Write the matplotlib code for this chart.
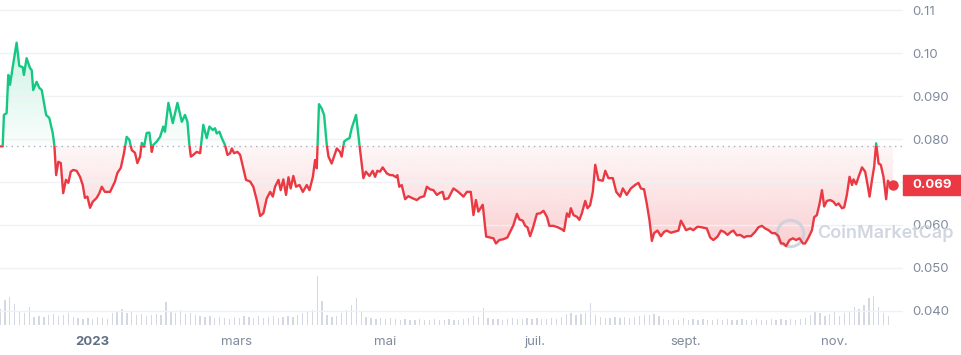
import matplotlib
matplotlib.use("Agg")
import matplotlib.pyplot as plt
import numpy as np
import pandas as pd
from matplotlib.path import Path
from matplotlib.patches import PathPatch, Rectangle

plt.rcParams["font.family"] = ["Inter", "DejaVu Sans"]

# price series (days since start date)
START = "2022-11-24"
BASE_PRICE = 0.0784

days = [
    0.0, 1.1, 1.6, 2.7, 3.4, 4.1, 5.2, 6.8, 7.9, 9.3,
    9.8, 10.9, 12.3, 13.0, 13.6, 15.0, 16.1, 17.1, 18.9, 20.2,
    21.6, 22.3, 23.0, 23.9, 24.9, 25.9, 27.0, 28.0, 29.0, 30.0,
    31.4, 32.8, 33.9, 34.8, 35.8, 36.9, 38.0, 39.6, 40.7, 41.7,
    43.0, 45.1, 47.1, 48.1, 49.5, 50.8, 51.9, 53.0, 54.0, 55.3,
    56.3, 57.4, 58.1, 59.0, 60.1, 61.2, 62.2, 62.8, 64.2, 65.6,
    66.9, 67.6, 69.0, 70.8, 72.7, 74.5, 75.8, 76.8, 77.6, 78.2,
    79.2, 80.6, 82.0, 83.3, 84.7, 85.8, 87.2, 88.1, 88.8, 89.9,
    90.9, 92.2, 93.2, 94.3, 95.0, 95.9, 97.3, 98.4, 99.5, 100.8,
    102.5, 103.8, 105.2, 106.6, 107.9, 109.3, 110.7, 111.8, 112.7, 114.1,
    115.0, 116.1, 117.2, 118.2, 119.1, 120.2, 121.3, 122.7, 124.1, 125.7,
    126.8, 128.2, 129.1, 129.8, 130.7, 131.8, 132.8, 133.9, 134.6, 135.9,
    138.0, 139.3, 140.0, 141.0, 142.1, 143.2, 144.1, 145.9, 147.3, 148.9,
    149.9, 151.4, 152.7, 153.7, 154.6, 155.7, 156.8, 158.5, 159.8, 160.9,
    162.3, 162.8, 163.6, 164.6, 166.0, 167.3, 169.1, 170.8, 172.1, 173.8,
    174.9, 176.2, 177.6, 179.0, 180.3, 181.4, 182.1, 183.7, 185.8, 187.8,
    189.9, 191.3, 192.9, 194.0, 195.0, 196.0, 197.8, 199.2, 200.8, 202.2,
    203.2, 204.6, 206.3, 207.9, 209.0, 210.4, 211.8, 212.8, 214.2, 215.2,
    216.1, 217.2, 218.3, 220.0, 221.3, 222.7, 224.1, 225.1, 226.8, 228.4,
    230.2, 231.1, 232.3, 233.2, 233.9, 235.0, 236.4, 237.4, 238.4, 239.8,
    240.7, 241.8, 242.9, 243.9, 245.2, 247.0, 248.0, 249.3, 251.1, 252.5,
    254.1, 255.2, 256.8, 258.5, 260.2, 261.6, 262.6, 263.9, 265.0, 266.1,
    267.1, 268.0, 269.4, 270.8, 272.1, 273.2, 274.9, 276.2, 278.0, 279.0,
    280.0, 281.1, 282.8, 284.1, 285.8, 287.2, 289.6, 291.0, 292.3, 294.0,
    295.4, 296.7, 298.1, 299.5, 300.5, 301.9, 303.3, 304.9, 306.0, 307.7,
    309.4, 310.8, 312.2, 313.5, 314.9, 316.3, 317.6, 319.0, 320.0, 321.0,
    322.1, 323.5, 324.9, 326.2, 327.6, 329.0, 329.9, 331.3, 332.7, 333.6,
    334.7, 335.8, 336.8, 337.7, 338.8, 340.2, 341.5, 342.6, 343.6, 345.0,
    345.9, 347.0, 348.1, 349.1, 349.7, 350.8, 351.8, 353.2, 354.5, 355.5,
    356.3, 357.3, 358.2, 359.0, 360.0, 360.9, 362.0, 363.1, 363.8, 364.8,
    365.9,
]

prices = [
    0.0783, 0.0783, 0.0856, 0.0860, 0.0949, 0.0926, 0.0967, 0.1024, 0.0970, 0.0967,
    0.0949, 0.0988, 0.0965, 0.0960, 0.0914, 0.0933, 0.0919, 0.0914, 0.0856, 0.0849,
    0.0814, 0.0784, 0.0716, 0.0747, 0.0744, 0.0674, 0.0705, 0.0698, 0.0724, 0.0728,
    0.0726, 0.0712, 0.0693, 0.0663, 0.0666, 0.0640, 0.0654, 0.0663, 0.0674, 0.0689,
    0.0677, 0.0677, 0.0701, 0.0721, 0.0733, 0.0767, 0.0805, 0.0798, 0.0774, 0.0768,
    0.0744, 0.0759, 0.0791, 0.0782, 0.0814, 0.0815, 0.0770, 0.0786, 0.0794, 0.0805,
    0.0829, 0.0817, 0.0884, 0.0837, 0.0884, 0.0840, 0.0856, 0.0840, 0.0786, 0.0759,
    0.0763, 0.0770, 0.0767, 0.0833, 0.0802, 0.0829, 0.0821, 0.0825, 0.0813, 0.0817,
    0.0802, 0.0786, 0.0763, 0.0767, 0.0778, 0.0767, 0.0770, 0.0763, 0.0736, 0.0705,
    0.0701, 0.0689, 0.0658, 0.0621, 0.0627, 0.0662, 0.0677, 0.0666, 0.0689, 0.0705,
    0.0681, 0.0706, 0.0670, 0.0711, 0.0685, 0.0714, 0.0689, 0.0693, 0.0677, 0.0693,
    0.0681, 0.0712, 0.0751, 0.0732, 0.0881, 0.0871, 0.0856, 0.0786, 0.0759, 0.0743,
    0.0778, 0.0770, 0.0759, 0.0794, 0.0799, 0.0802, 0.0825, 0.0856, 0.0786, 0.0709,
    0.0724, 0.0714, 0.0726, 0.0712, 0.0726, 0.0724, 0.0734, 0.0720, 0.0716, 0.0716,
    0.0711, 0.0716, 0.0689, 0.0693, 0.0660, 0.0667, 0.0662, 0.0658, 0.0664, 0.0667,
    0.0689, 0.0683, 0.0681, 0.0670, 0.0675, 0.0677, 0.0660, 0.0662, 0.0685, 0.0677,
    0.0666, 0.0677, 0.0677, 0.0623, 0.0658, 0.0631, 0.0647, 0.0573, 0.0571, 0.0569,
    0.0557, 0.0565, 0.0567, 0.0571, 0.0584, 0.0600, 0.0626, 0.0613, 0.0610, 0.0598,
    0.0595, 0.0574, 0.0592, 0.0626, 0.0627, 0.0633, 0.0619, 0.0598, 0.0598, 0.0595,
    0.0590, 0.0586, 0.0627, 0.0619, 0.0639, 0.0623, 0.0619, 0.0612, 0.0627, 0.0656,
    0.0639, 0.0646, 0.0677, 0.0740, 0.0705, 0.0703, 0.0726, 0.0709, 0.0709, 0.0677,
    0.0666, 0.0685, 0.0670, 0.0685, 0.0693, 0.0698, 0.0685, 0.0683, 0.0650, 0.0612,
    0.0563, 0.0581, 0.0587, 0.0574, 0.0584, 0.0587, 0.0582, 0.0584, 0.0587, 0.0610,
    0.0600, 0.0588, 0.0592, 0.0588, 0.0596, 0.0595, 0.0592, 0.0571, 0.0565, 0.0573,
    0.0587, 0.0584, 0.0577, 0.0584, 0.0587, 0.0576, 0.0577, 0.0571, 0.0574, 0.0574,
    0.0584, 0.0595, 0.0598, 0.0592, 0.0588, 0.0581, 0.0581, 0.0574, 0.0557, 0.0557,
    0.0551, 0.0565, 0.0569, 0.0565, 0.0569, 0.0557, 0.0557, 0.0571, 0.0588, 0.0618,
    0.0623, 0.0649, 0.0681, 0.0643, 0.0656, 0.0658, 0.0654, 0.0646, 0.0650, 0.0639,
    0.0641, 0.0670, 0.0712, 0.0693, 0.0706, 0.0695, 0.0712, 0.0734, 0.0724, 0.0693,
    0.0666, 0.0705, 0.0736, 0.0790, 0.0743, 0.0740, 0.0712, 0.0660, 0.0703, 0.0693,
    0.0694,
]

# volume, one bar every 2 days (relative units)
volume = [
    16, 25, 28, 21, 13, 12, 18, 8, 9, 8,
    10, 11, 9, 10, 12, 8, 7, 6, 7, 6,
    8, 7, 6, 12, 14, 16, 12, 13, 10, 11,
    9, 10, 11, 10, 23, 14, 12, 15, 11, 12,
    10, 9, 8, 9, 7, 8, 7, 6, 8, 7,
    9, 8, 7, 9, 7, 8, 9, 7, 8, 9,
    8, 10, 12, 13, 15, 50, 24, 10, 8, 9,
    12, 15, 20, 27, 13, 8, 7, 6, 7, 6,
    7, 6, 5, 6, 5, 5, 6, 5, 5, 6,
    5, 5, 6, 5, 5, 6, 7, 9, 8, 17,
    7, 6, 6, 5, 6, 7, 6, 6, 7, 6,
    7, 6, 6, 7, 6, 8, 11, 12, 10, 11,
    12, 22, 10, 8, 7, 7, 8, 7, 8, 7,
    8, 9, 10, 10, 11, 9, 6, 5, 6, 5,
    7, 5, 6, 5, 6, 5, 5, 6, 5, 6,
    5, 5, 6, 5, 5, 6, 5, 5, 6, 5,
    6, 5, 6, 5, 6, 7, 10, 13, 12, 9,
    11, 13, 9, 12, 14, 18, 16, 20, 27, 29,
    18, 12, 9,
]

tick_dates = ["2023-01-01", "2023-03-01", "2023-05-01", "2023-07-01", "2023-09-01", "2023-11-01"]
tick_labels = ["2023", "mars", "mai", "juil.", "sept.", "nov."]
y_ticks = [0.04, 0.05, 0.06, 0.07, 0.08, 0.09, 0.10, 0.11]
# the 0.070 label sits under the last-price tag
y_labels = ["0.040", "0.050", "0.060", "", "0.080", "0.090", "0.10", "0.11"]

GREEN = "#16c784"
RED = "#ea3943"
GREY = "#808a9d"

days = np.array(days)
prices = np.array(prices)
YLIM = (0.03674, 0.11233)
XLIM = (0, 370)

fig = plt.figure(figsize=(9.62, 3.55), dpi=100)
ax = fig.add_axes([0, 30 / 355, 903 / 962, 325 / 355])
vol_ax = ax.twinx()
ax.set_zorder(2)
ax.patch.set_visible(False)
vol_ax.set_zorder(1)

# volume bars
vol_days = np.arange(len(volume)) * 2
vol_ax.bar(vol_days, volume, width=0.55, color="#d3d8e2", linewidth=0)
vol_ax.set_ylim(0, 330)
vol_ax.axis("off")

ax.set_xlim(*XLIM)
ax.set_ylim(*YLIM)

# gradient fill between the line and the base price
poly = ax.fill_between(days, prices, BASE_PRICE, facecolor="none", linewidth=0)
clip_path = Path.make_compound_path(*poly.get_paths())
clip_patch = PathPatch(clip_path, transform=ax.transData, facecolor="none", edgecolor="none")
ax.add_patch(clip_patch)

yy = np.linspace(YLIM[0], YLIM[1], 900)
grad = np.zeros((len(yy), 1, 4))
up = yy >= BASE_PRICE
grad[up, 0, :3] = matplotlib.colors.to_rgb(GREEN)
grad[~up, 0, :3] = matplotlib.colors.to_rgb(RED)
grad[up, 0, 3] = 0.02 + 0.2 * np.clip((yy[up] - BASE_PRICE) / (0.1024 - BASE_PRICE), 0, 1)
grad[~up, 0, 3] = 0.04 + 0.2 * np.clip((BASE_PRICE - yy[~up]) / (BASE_PRICE - 0.055), 0, 1)
im = ax.imshow(grad, extent=[XLIM[0], XLIM[1], YLIM[0], YLIM[1]], origin="lower",
               aspect="auto", interpolation="bilinear", zorder=1)
im.set_clip_path(clip_patch)

# base price dotted line
ax.axhline(BASE_PRICE, color="#a6b0c3", lw=1, ls=(0, (1, 3)), zorder=2)

# line: green above base, red below
above = Rectangle((-10, BASE_PRICE), 400, 1, transform=ax.transData)
below = Rectangle((-10, BASE_PRICE - 1), 400, 1, transform=ax.transData)
(g_line,) = ax.plot(days, prices, color=GREEN, lw=1.7, zorder=3, solid_joinstyle="round")
(r_line,) = ax.plot(days, prices, color=RED, lw=1.7, zorder=3, solid_joinstyle="round")
g_line.set_clip_path(above)
r_line.set_clip_path(below)
ax.plot(days[-1], prices[-1], "o", color=RED, ms=6.5, zorder=4)

# watermark
ax.plot([0.875], [0.283], marker="o", ms=19, mfc="none", mec="#c9d0db", mew=2.2,
        transform=ax.transAxes, zorder=2, alpha=0.85)
ax.text(0.905, 0.283, "CoinMarketCap", transform=ax.transAxes, fontsize=13,
        color="#c9d0db", alpha=0.85, va="center", ha="left", fontweight="semibold", zorder=2)

# axes styling
start = pd.Timestamp(START)
tick_pos = [(pd.Timestamp(d) - start).days for d in tick_dates]
ax.set_xticks(tick_pos)
ax.set_xticklabels(tick_labels)
ax.tick_params(axis="x", length=0, pad=8, labelsize=9.5, labelcolor=GREY)
lbl = ax.get_xticklabels()[0]
lbl.set_fontweight("bold")
lbl.set_color("#616e85")

ax.yaxis.tick_right()
ax.set_yticks(y_ticks)
ax.set_yticklabels(y_labels)
ax.tick_params(axis="y", length=0, pad=7, labelsize=9.5, labelcolor=GREY)
ax.grid(axis="y", color="#eff2f5", lw=1)
ax.grid(axis="x", visible=False)
for s in ax.spines.values():
    s.set_visible(False)

# last price tag
fig.canvas.draw()
y_disp = ax.transData.transform((0, prices[-1]))[1]
x0 = 903 / 962
fig.patches.append(Rectangle((x0, (y_disp - 10) / 355), 1 - x0, 20 / 355,
                             transform=fig.transFigure, color=RED, zorder=5))
fig.text((x0 + 1) / 2, y_disp / 355, f"{prices[-1]:.3f}", color="white", fontsize=9.5,
         fontweight="bold", ha="center", va="center", zorder=6)

fig.savefig("out.png", dpi=100)
